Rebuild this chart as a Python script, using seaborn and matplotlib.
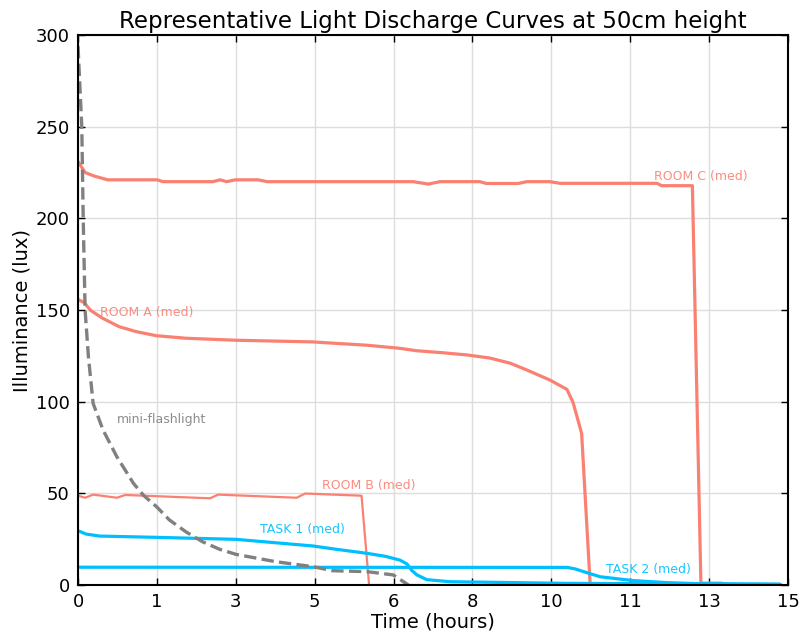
import numpy as np
import pandas as pd
import matplotlib
matplotlib.use("Agg")
import matplotlib.pyplot as plt
import seaborn as sns

# ---- data (hours, lux) ----
room_c_t = [0, 0.15, 0.35, 0.63, 1.67, 1.8, 2.85, 3.0, 3.14, 3.32, 3.8, 4.0, 6.8, 7.08, 7.4, 7.65,
            8.49, 8.63, 9.3, 9.48, 9.97, 10.18, 12.23, 12.33, 12.98, 13.16, 13.6, 13.75, 14.85]
room_c_y = [231, 225, 223, 221, 221, 220, 220, 221, 220, 221, 221, 220, 220, 220, 218.7, 220,
            220, 219, 219, 220, 220, 219.1, 219.1, 217.8, 217.8, 1, 1, 0, 0]

room_a_t = [0, 0.13, 0.27, 0.52, 0.87, 1.23, 1.65, 2.28, 3.34, 4.96, 5.45, 6.1, 6.8, 7.15, 7.7,
            8.21, 8.7, 9.13, 9.48, 9.97, 10.33, 10.46, 10.64, 10.82, 14.85]
room_a_y = [155.8, 154, 149.7, 145.5, 140.9, 138.2, 136, 134.6, 133.5, 132.6, 131.8, 130.8, 129.1,
            127.8, 126.7, 125.5, 123.8, 121, 117.3, 111.8, 106.7, 99.5, 82.7, 0.5, 0]

room_b_t = [0, 0.15, 0.32, 0.82, 1.0, 2.79, 2.96, 4.62, 4.8, 5.99, 6.15, 14.85]
room_b_y = [48.7, 47.6, 49.3, 47.6, 49.1, 47.3, 49.3, 47.6, 49.9, 48.7, 0, 0]

task1_t = [0, 0.17, 0.45, 1.65, 3.34, 4.96, 5.45, 6.1, 6.5, 6.8, 6.95, 7.05, 7.16, 7.37, 7.86,
           10.33, 14.83]
task1_y = [29.6, 27.8, 26.7, 26, 24.9, 21.3, 19.5, 17.3, 15.6, 13.6, 11.5, 8, 5.5, 2.9, 1.8,
           0.9, 0.4]

task2_t = [0, 10.33, 10.5, 10.68, 11.03, 11.73, 12.44, 13.1, 14.83]
task2_y = [9.7, 9.6, 8.8, 7.3, 4.5, 2.4, 1.3, 0.7, 0.4]

flash_t = [0, 0.08, 0.11, 0.15, 0.22, 0.32, 0.53, 0.82, 1.17, 1.38, 1.66, 1.93, 2.28, 2.63,
           2.99, 3.34, 4.18, 4.96, 5.38, 6.1, 6.66, 6.98]
flash_y = [294, 250, 200, 150, 124.5, 99, 84.5, 70, 55.5, 49, 42.7, 35.5, 29, 23.6, 19.5, 16.7,
           12.7, 10, 7.8, 7.3, 5.5, 0]

x_ticks = list(np.linspace(0, 15, 10))
x_tick_labels = ["0", "1", "3", "5", "6", "8", "10", "11", "13", "15"]
y_ticks = [0, 50, 100, 150, 200, 250, 300]

labels = ["ROOM C (med)", "ROOM A (med)", "ROOM B (med)", "TASK 1 (med)", "TASK 2 (med)", "mini-flashlight"]
label_x = [12.17, 0.46, 5.16, 3.85, 11.16, 0.82]
label_y = [223, 148.4, 54, 30, 8.7, 90]

SALMON = "#FA8072"
SKY = "#00BFFF"
GREY = "#808080"

sns.set_theme(style="whitegrid")
plt.rcParams["font.family"] = ["DejaVu Sans"]

fig = plt.figure(figsize=(8.02, 6.34), dpi=100)
ax = fig.add_axes([78 / 802, 49 / 634, 710 / 802, 550 / 634])

series = [
    (room_c_t, room_c_y, SALMON, 2.3, "-"),
    (room_a_t, room_a_y, SALMON, 2.3, "-"),
    (room_b_t, room_b_y, SALMON, 1.6, "-"),
    (task1_t, task1_y, SKY, 2.3, "-"),
    (task2_t, task2_y, SKY, 2.3, "-"),
]
for t, y, c, lw, ls in series:
    sns.lineplot(x=t, y=y, ax=ax, color=c, linewidth=lw, linestyle=ls, sort=False)
sns.lineplot(x=flash_t, y=flash_y, ax=ax, color=GREY, linewidth=2.4, linestyle="--", sort=False)

label_colors = [SALMON, SALMON, SALMON, SKY, SKY, GREY]
for txt, lx, ly, c in zip(labels, label_x, label_y, label_colors):
    ax.text(lx, ly, txt, color=c, fontsize=9, ha="left", va="center", alpha=0.9)

ax.set_xlim(0, 15)
ax.set_ylim(0, 300)
ax.set_xticks(x_ticks)
ax.set_xticklabels(x_tick_labels)
ax.set_yticks(y_ticks)
ax.grid(True, color="#dddddd", linewidth=1)
ax.set_facecolor("white")
for s in ax.spines.values():
    s.set_color("black")
    s.set_linewidth(1.5)
ax.tick_params(direction="in", length=5, width=1, color="black", top=True, right=True,
               bottom=True, left=True, labelsize=13, labelcolor="black", pad=6)
ax.set_xlabel("Time (hours)", fontsize=14, color="black", labelpad=1)
ax.set_ylabel("Illuminance (lux)", fontsize=14, color="black", labelpad=3)
ax.set_title("Representative Light Discharge Curves at 50cm height", fontsize=16.5,
             color="black", pad=5)

fig.savefig("out.png", dpi=100, facecolor="white")
